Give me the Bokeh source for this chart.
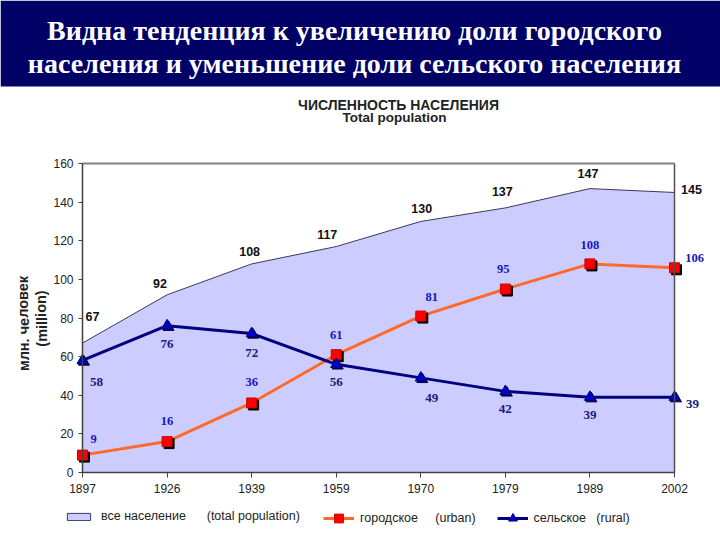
from bokeh.plotting import figure
from bokeh.models import (Range1d, Label, LabelSet, ColumnDataSource, Legend,
                          LegendItem, FixedTicker, LinearAxis, BoxAnnotation)
from bokeh.transform import dodge
from bokeh.core.properties import value
from bokeh.embed import file_html
from bokeh.resources import INLINE

# ---------------- data ----------------
years = ["1897", "1926", "1939", "1959", "1970", "1979", "1989", "2002"]
total = [67, 92, 108, 117, 130, 137, 147, 145]
urban = [9, 16, 36, 61, 81, 95, 108, 106]
rural = [58, 76, 72, 56, 49, 42, 39, 39]

banner_lines = ["Видна тенденция к увеличению доли городского",
                "населения и уменьшение доли сельского населения"]
chart_title = ["ЧИСЛЕННОСТЬ НАСЕЛЕНИЯ", "Total population"]
y_label = ["млн. человек", "(million)"]
legend_labels = ["все население\u00a0\u00a0\u00a0\u00a0\u00a0\u00a0(total population)",
                 "городское\u00a0\u00a0\u00a0\u00a0\u00a0(urban)",
                 "сельское\u00a0\u00a0\u00a0(rural)"]

# label offsets in screen px (dx, dy up)
total_off = [(10, 27), (-7, 11), (-2, 12), (-9, 12), (1, 13), (-3, 16), (-2, 15), (17, 3)]
urban_off = [(11, 16), (0, 21), (0, 21), (0, 20), (11, 19), (-2, 20), (0, 19), (20, 10)]
rural_off = [(14, -22), (0, -18), (0, -20), (0, -18), (11, -20), (0, -18), (0, -18), (18, -7)]

# ---------------- geometry (page px) ----------------
W, H = 720, 540
FL, FR, FT, FB = 82, 674, 163, 472   # plot area
XMAX, YMAX = len(years) - 1, 160
XPX = (FR - FL) / XMAX
YPX = (FB - FT) / YMAX

def dx(px):
    return (px - FL) / XPX

def dy(py):
    return (FB - py) / YPX

SANS = "Liberation Sans"
SERIF = "Liberation Serif"

p = figure(width=W, height=H, output_backend="svg", toolbar_location=None,
           x_range=Range1d(dx(0), dx(W)), y_range=Range1d(dy(H), dy(0)),
           min_border=0, background_fill_color="white", border_fill_color="white")
p.grid.visible = False
p.outline_line_color = None

# banner
p.add_layout(BoxAnnotation(bottom=dy(86), fill_color="#000066", fill_alpha=1.0,
                           line_color=None))
for txt, yp in zip(banner_lines, (30, 63)):
    p.add_layout(Label(x=dx(354), y=dy(yp), text=txt, text_align="center",
                       text_baseline="middle", text_color="white", text_font=SERIF,
                       text_font_style="bold", text_font_size="28px"))

xi = list(range(len(years)))
src = ColumnDataSource(dict(x=xi, total=total, urban=urban, rural=rural))

# area
area = p.patch(x=xi + [xi[-1], xi[0]], y=total + [0, 0],
               fill_color="#ccccff", line_color="#3a3a5a", line_width=1)

ul = p.line("x", "urban", source=src, line_color="#ff6a2a", line_width=3)
rl = p.line("x", "rural", source=src, line_color="#000080", line_width=3)

p.scatter(x=dodge("x", 2.0 / XPX), y=dodge("urban", -2.0 / YPX), source=src,
          marker="square", size=10, fill_color="black", line_color="black")
us = p.scatter("x", "urban", source=src, marker="square", size=10,
               fill_color="#ff0000", line_color="#cc0000")
p.scatter(x=dodge("x", 1.5 / XPX), y=dodge("rural", -1.5 / YPX), source=src,
          marker="triangle", size=11, fill_color="#000040", line_color="#000040")
rs = p.scatter("x", "rural", source=src, marker="triangle", size=11,
               fill_color="#0000cc", line_color="#000080")

# axes (fixed inside the canvas)
for ax in (p.xaxis, p.yaxis):
    ax.axis_line_color = "#404040"
    ax.axis_line_width = 1.5
    ax.major_tick_line_color = "#404040"
    ax.major_tick_in = 0
    ax.minor_tick_line_color = None
    ax.major_label_text_font = SANS
    ax.major_label_text_font_size = "12px"
    ax.major_label_text_color = "#222222"
p.xaxis.fixed_location = 0
p.yaxis.fixed_location = 0
p.xaxis.bounds = (0, XMAX)
p.yaxis.bounds = (0, YMAX)
p.xaxis.ticker = FixedTicker(ticks=xi)
p.xaxis.major_label_overrides = {i: y for i, y in enumerate(years)}
p.xaxis.major_tick_out = 5
p.xaxis.major_label_standoff = 6
p.yaxis.ticker = FixedTicker(ticks=list(range(0, YMAX + 1, 20)))
p.yaxis.major_tick_out = 4
p.yaxis.major_label_standoff = 5

# plot area border (top and right)
top_ax = LinearAxis(fixed_location=YMAX, bounds=(0, XMAX), axis_line_color="#808080",
                    axis_line_width=2, major_tick_line_color=None,
                    minor_tick_line_color=None, major_label_text_color=None,
                    ticker=FixedTicker(ticks=[]))
right_ax = LinearAxis(fixed_location=XMAX, bounds=(0, YMAX), axis_line_color="#505050",
                      axis_line_width=1.5, major_tick_line_color=None,
                      minor_tick_line_color=None, major_label_text_color=None,
                      ticker=FixedTicker(ticks=[]))
p.add_layout(top_ax, "below")
p.add_layout(right_ax, "left")

# data labels
def add_labels(vals, offs, color, font, size):
    s = ColumnDataSource(dict(x=xi, y=vals, t=[str(v) for v in vals],
                              ox=[o[0] for o in offs], oy=[o[1] for o in offs]))
    p.add_layout(LabelSet(x="x", y="y", text="t", source=s, x_offset="ox", y_offset="oy",
                          text_align="center", text_baseline="middle",
                          text_color=color, text_font=value(font),
                          text_font_style="bold", text_font_size=size))

add_labels(total, total_off, "#111111", SANS, "12.5px")
add_labels(urban, urban_off, "#1515c0", SERIF, "12.5px")
add_labels(rural, rural_off, "#1a1a80", SERIF, "13px")

def add_label(xp, yp, text, size, angle=0.0):
    p.add_layout(Label(x=dx(xp), y=dy(yp), text=text, angle=angle,
                       text_align="center", text_baseline="middle",
                       text_font=SANS, text_font_style="bold",
                       text_font_size=size, text_color="#222222"))

add_label(398, 104, chart_title[0], "14px")
add_label(394, 117, chart_title[1], "13.5px")
add_label(23, 323, y_label[0], "14.5px", 1.5708)
add_label(41, 318, y_label[1], "14.5px", 1.5708)

# legends (location = px from bottom-left of canvas)
leg1 = Legend(items=[LegendItem(label=legend_labels[0], renderers=[area])],
              location=(64, H - 523), orientation="horizontal",
              glyph_width=29, glyph_height=9, label_height=9, label_standoff=8,
              padding=0, margin=0, spacing=0, border_line_color=None,
              background_fill_alpha=0, label_text_font=SANS,
              label_text_font_size="12.5px", label_text_color="#222222")
leg2 = Legend(items=[LegendItem(label=legend_labels[1], renderers=[ul, us]),
                     LegendItem(label=legend_labels[2], renderers=[rl, rs])],
              location=(323, H - 529), orientation="horizontal",
              glyph_width=31, glyph_height=22, label_height=22, label_standoff=6,
              padding=0, margin=0, spacing=21, border_line_color=None,
              background_fill_alpha=0, label_text_font=SANS,
              label_text_font_size="12.5px", label_text_color="#222222")
p.add_layout(leg1)
p.add_layout(leg2)

open("out.html", "w").write(file_html(p, INLINE))
